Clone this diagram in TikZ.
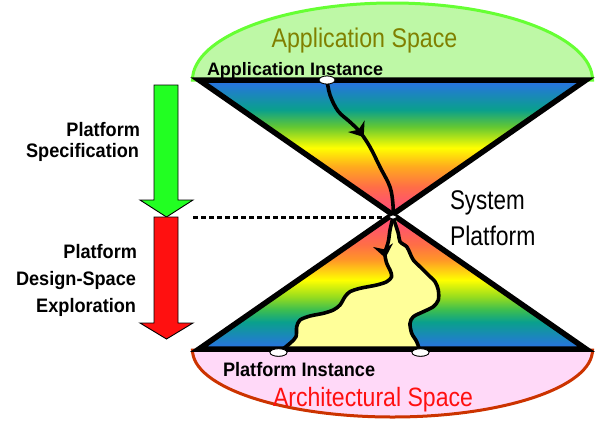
\documentclass[tikz,border=0pt]{standalone}
\usepackage{fontspec}
\setmainfont{Liberation Sans}
\usetikzlibrary{shapes.geometric,decorations.markings,arrows.meta}

% palette
\definecolor{appfill}{HTML}{BEF8A6}
\definecolor{appedge}{HTML}{66FF33}
\definecolor{archfill}{HTML}{FFD9F8}
\definecolor{archedge}{HTML}{CC3300}
\definecolor{olivetext}{HTML}{808000}
\definecolor{tracefill}{HTML}{FFFF99}
\definecolor{specgreen}{HTML}{22FF22}
\definecolor{dsered}{HTML}{FF1010}
% cone gradient stops
\definecolor{cpink}{HTML}{FF4878}
\definecolor{cpinkred}{HTML}{FF5A64}
\definecolor{cred}{HTML}{FF6E46}
\definecolor{corange}{HTML}{FFAA1E}
\definecolor{corangeb}{HTML}{FF9628}
\definecolor{cyellow}{HTML}{FFFF00}
\definecolor{cgreen}{HTML}{64C832}
\definecolor{cgreenb}{HTML}{3CBE50}
\definecolor{cygreen}{HTML}{96DC1E}
\definecolor{cteal}{HTML}{0AA08C}
\definecolor{cblue}{HTML}{2A70E6}

\pgfdeclareverticalshading{conetop}{100bp}{color(0bp)=(cpink); color(25bp)=(cpink);
  color(30.6bp)=(cpinkred); color(35.4bp)=(cred); color(42.8bp)=(corange);
  color(49.8bp)=(cyellow); color(57.6bp)=(cgreen); color(63.9bp)=(cteal);
  color(75bp)=(cblue); color(100bp)=(cblue)}
\pgfdeclareverticalshading{conebottom}{100bp}{color(0bp)=(cblue); color(25bp)=(cblue);
  color(35.1bp)=(cteal); color(39.6bp)=(cgreenb); color(44.4bp)=(cygreen);
  color(50.7bp)=(cyellow); color(58.2bp)=(corangeb); color(63.8bp)=(cred);
  color(69.4bp)=(cpinkred); color(75bp)=(cpink); color(100bp)=(cpink)}

\tikzset{
  lbl/.style={inner sep=0pt, outer sep=0pt},
  bigtext/.style={lbl, font=\fontsize{27}{30}\selectfont},
  boldtext/.style={lbl, font=\fontsize{19.5}{22}\selectfont\bfseries},
  conerim/.style={draw=black, line width=5.5pt, line join=miter},
  route/.style={draw=black, line width=3.6pt, line cap=round, line join=round},
  midhead/.style={postaction={decorate}, decoration={markings,
      mark=at position #1 with {\arrow{Stealth[length=13pt,width=20pt,inset=4pt]}}}},
  dot/.style={ellipse, draw=black, fill=white, line width=0.8pt, inner sep=0pt,
      minimum width=16pt, minimum height=8pt},
  flowarrow/.style={draw=black, line width=0.9pt, line join=miter},
  dotline/.style={draw=black, line width=3pt, dash pattern=on 5pt off 3pt}
}

\begin{document}
\begin{tikzpicture}[x=1pt,y=-1pt]
\useasboundingbox (0,0) rectangle (596,421);

% application space (upper half ellipse) and architectural space (lower half ellipse)
\filldraw[fill=appfill, draw=appedge, line width=3pt] (192.5,80) arc (180:360:200 and 77) -- cycle;
\filldraw[fill=archfill, draw=archedge, line width=3pt] (192.5,350) arc (180:0:200 and 67) -- cycle;

% the two cones of the hourglass
\coordinate (tl) at (199,80);
\coordinate (tr) at (586,80);
\coordinate (apex) at (392.5,214.5);
\coordinate (bl) at (199,349);
\coordinate (br) at (586,349);
\shade[shading=conetop] (tl) -- (tr) -- (apex) -- cycle;
\shade[shading=conebottom] (bl) -- (br) -- (apex) -- cycle;

% explored region of the architectural cone
\fill[tracefill] plot[smooth, tension=0.5] coordinates {(391.7,218.3) (390,230) (388.3,241.7) (385,253.3)
    (386.7,263.3) (390,270) (391.7,276.7) (386.7,281.7) (376.7,285) (360,288.3) (350,291.7)
    (345,296.7) (340,305) (333.3,310) (323.3,313.3) (310,316) (300,320) (296.7,326.7)
    (296,336.7) (290,343.3) (280,350)}
  -- plot[smooth, tension=0.5] coordinates {(421.7,350) (416.7,341.7) (411.7,333.3) (410,323.3)
    (413.3,316.7) (423.3,311.7) (433.3,306.7) (438.3,300) (438.3,290) (435,281.7) (428.3,275)
    (420,266.7) (413.3,260) (410,253.3) (406.7,246.7) (400,241.7) (398.3,233.3) (396.7,220)}
  -- cycle;

% instance markers
\node[dot] (appdot) at (327,80) {};
\node[dot, minimum width=7pt, minimum height=4pt] (apexdot) at (393,217) {};
\node[dot, minimum width=17pt, minimum height=7.5pt] (pidotL) at (278.5,352.5) {};
\node[dot, minimum width=17pt, minimum height=7.5pt] (pidotR) at (420.5,352.5) {};

% dotted level of the system platform
\coordinate (dashstart) at (193,217);
\draw[dotline] (dashstart) -- (apexdot.west);

% cone outlines
\draw[conerim] (tl) -- (tr) -- (apex) -- cycle;
\draw[conerim] (bl) -- (br) -- (apex) -- cycle;

% refinement trace from the application instance down to the platform
\draw[route, midhead=70pt] plot[smooth, tension=0.6] coordinates {(appdot.center) (330,95) (338,111)
    (350,122) (360,132) (370,147) (380,167) (390,187) (393,205) (apexdot.center)};

% boundaries of the explored region
\draw[route, midhead=42pt] plot[smooth, tension=0.5] coordinates {(apexdot.center) (390,230) (388.3,241.7)
    (385,253.3) (386.7,263.3) (390,270) (391.7,276.7) (386.7,281.7) (376.7,285) (360,288.3)
    (350,291.7) (345,296.7) (340,305) (333.3,310) (323.3,313.3) (310,316) (300,320)
    (296.7,326.7) (296,336.7) (290,343.3) (pidotL.center)};
\draw[route] plot[smooth, tension=0.5] coordinates {(apexdot.center) (398.3,233.3) (400,241.7)
    (406.7,246.7) (410,253.3) (413.3,260) (420,266.7) (428.3,275) (435,281.7) (438.3,290)
    (438.3,300) (433.3,306.7) (423.3,311.7) (413.3,316.7) (410,323.3) (411.7,333.3)
    (416.7,341.7) (pidotR.center)};

% markers drawn again on top of the lines
\node[dot] at (appdot) {};
\node[dot, minimum width=7pt, minimum height=4pt] at (apexdot) {};
\node[dot, minimum width=17pt, minimum height=7.5pt] at (pidotL) {};
\node[dot, minimum width=17pt, minimum height=7.5pt] at (pidotR) {};

% design-flow arrows
\draw[flowarrow, fill=specgreen] (154,85) -- (178,85) -- (178,200) -- (193,200) -- (166.5,217)
    -- (140,200) -- (154,200) -- cycle;
\draw[flowarrow, fill=dsered] (154,217) -- (178,217) -- (178,323) -- (193,323) -- (166.5,339)
    -- (140,323) -- (154,323) -- cycle;

% labels
\node[bigtext, text=olivetext, anchor=base] (appspace) at (364.5,47) {\scalebox{0.86}[1]{Application Space}};
\node[boldtext, anchor=base west, font=\fontsize{18}{20}\selectfont\bfseries] (appinst) at (207,75) {Application Instance};
\node[bigtext, anchor=base west] (sys1) at (450,209) {\scalebox{0.83}[1]{System}};
\node[bigtext, anchor=base west] (sys2) at (450,245) {\scalebox{0.85}[1]{Platform}};
\node[boldtext, anchor=base east] (spec1) at (140,136) {\scalebox{0.93}[1]{Platform}};
\node[boldtext, anchor=base east] (spec2) at (139,157) {\scalebox{0.93}[1]{Specification}};
\node[boldtext, anchor=base east] (dse1) at (137,258) {\scalebox{0.93}[1]{Platform}};
\node[boldtext, anchor=base east] (dse2) at (136,285) {\scalebox{0.93}[1]{Design-Space}};
\node[boldtext, anchor=base east] (dse3) at (136,312) {\scalebox{0.93}[1]{Exploration}};
\node[boldtext, anchor=base west] (platinst) at (223,376) {\scalebox{0.93}[1]{Platform Instance}};
\node[bigtext, text=dsered, anchor=base, font=\fontsize{26.5}{29}\selectfont] (archspace) at (373,406) {\scalebox{0.87}[1]{Architectural Space}};
\end{tikzpicture}
\end{document}
